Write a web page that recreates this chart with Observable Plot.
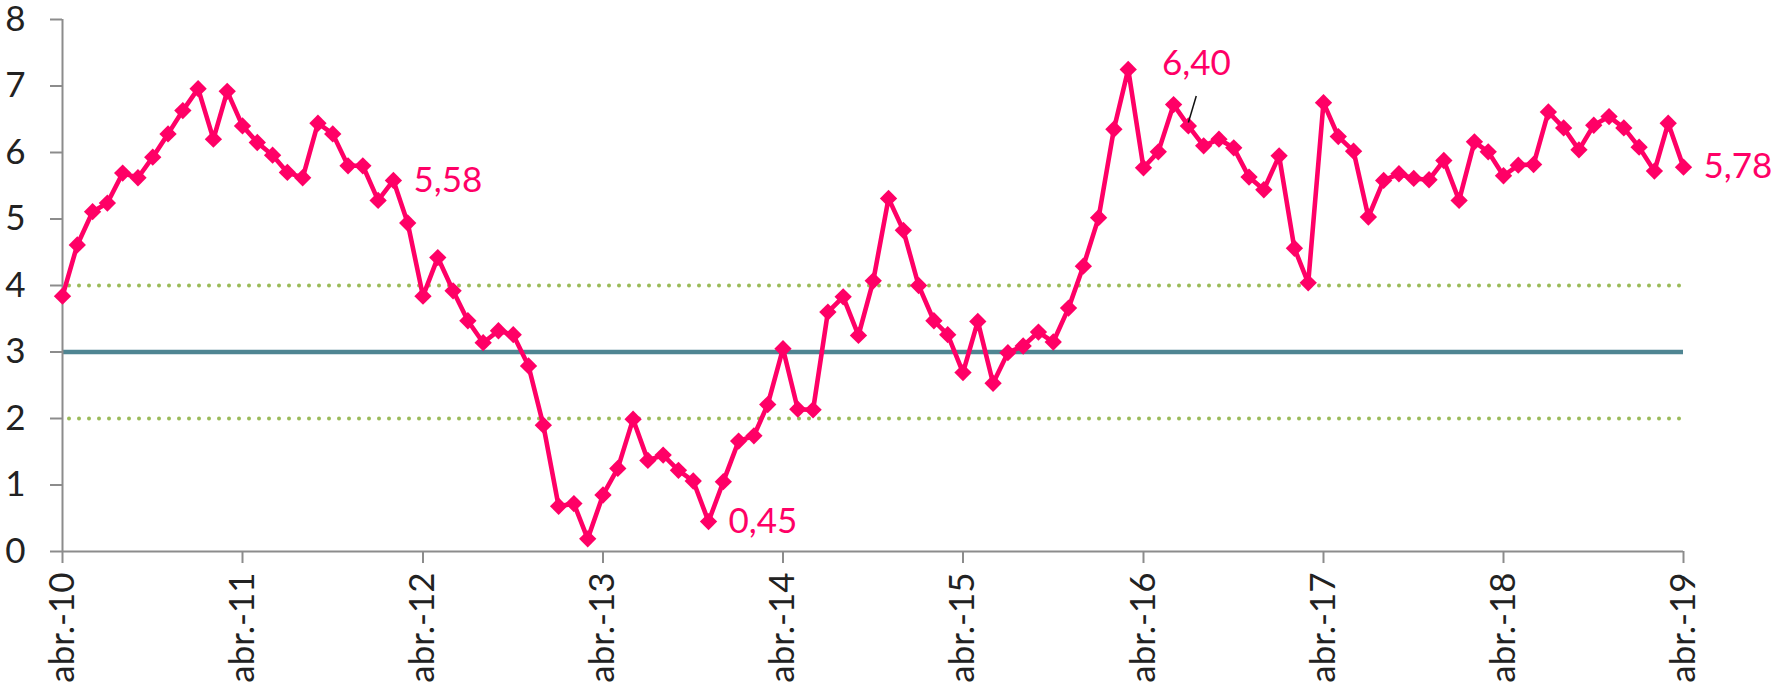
<!DOCTYPE html>
<html>
<head>
<meta charset="utf-8">
<script src="https://cdn.jsdelivr.net/npm/d3@7"></script>
<script src="https://cdn.jsdelivr.net/npm/@observablehq/plot@0.6"></script>
<style>
  html, body { margin: 0; padding: 0; background: #fff; }
  svg { display: block; }
</style>
</head>
<body>
<div id="chart"></div>
<script>
// Serie mensual, desde abril de 2010 hasta abril de 2019
const startYear = 2010;
const startMonth = 3; // abril (0 = enero)
const values = [
  // 2010 (abr-dic)
  3.84, 4.61, 5.11, 5.24, 5.69, 5.62, 5.93, 6.28, 6.63,
  // 2011
  6.96, 6.20, 6.92, 6.40, 6.15, 5.96, 5.70, 5.62, 6.44, 6.28, 5.80, 5.80,
  // 2012
  5.28, 5.58, 4.94, 3.84, 4.42, 3.92, 3.47, 3.14, 3.32, 3.26, 2.79, 1.90,
  // 2013
  0.68, 0.72, 0.19, 0.85, 1.25, 1.99, 1.37, 1.45, 1.22, 1.06, 0.45, 1.05,
  // 2014
  1.66, 1.74, 2.21, 3.05, 2.14, 2.13, 3.60, 3.83, 3.25, 4.07, 5.31, 4.83,
  // 2015
  4.00, 3.47, 3.26, 2.69, 3.46, 2.53, 2.99, 3.09, 3.30, 3.15, 3.66, 4.29,
  // 2016
  5.02, 6.35, 7.25, 5.77, 6.01, 6.72, 6.40, 6.10, 6.20, 6.07, 5.63, 5.44,
  // 2017
  5.95, 4.56, 4.04, 6.75, 6.24, 6.02, 5.03, 5.58, 5.68, 5.61, 5.59, 5.88,
  // 2018
  5.28, 6.16, 6.01, 5.65, 5.81, 5.82, 6.61, 6.37, 6.04, 6.41, 6.54, 6.37,
  // 2019 (ene-abr)
  6.08, 5.72, 6.44, 5.78
];
const tickYears = [2010, 2011, 2012, 2013, 2014, 2015, 2016, 2017, 2018, 2019];
const tickPrefix = "abr.-";
const yTicks = [0, 1, 2, 3, 4, 5, 6, 7, 8];
const targetValue = 3;
const bandValues = [2, 4];
// etiquetas de datos
const sideLabelIndex = [22, 43, 108];
const sideLabelText = ["5,58", "0,45", "5,78"];
const topLabelIndex = [75];
const topLabelText = ["6,40"];

const start = new Date(Date.UTC(startYear, startMonth, 1));
const data = values.map((v, i) => ({ date: d3.utcMonth.offset(start, i), value: v }));
const end = data[data.length - 1].date;
const tickDates = tickYears.map(y => new Date(Date.UTC(y, startMonth, 1)));
const sideLabels = sideLabelIndex.map((idx, k) => ({ ...data[idx], text: sideLabelText[k] }));
const topLabels = topLabelIndex.map((idx, k) => ({ ...data[idx], text: topLabelText[k] }));

const pink = "#ff0066";
const axisGray = "#8c8c8c";
const font = "Lato, 'Open Sans', sans-serif";

const chart = Plot.plot({
  width: 1776,
  height: 695,
  marginLeft: 62,
  marginRight: 93,
  marginTop: 19,
  marginBottom: 144,
  style: { fontFamily: font, fontSize: "35px", color: "#222", background: "#fff" },
  x: { type: "utc", domain: [start, end] },
  y: { domain: [0, 8] },
  marks: [
    // líneas de referencia
    Plot.ruleY(bandValues, {
      x1: start, x2: end,
      stroke: "#9bbb59", strokeWidth: 4,
      strokeDasharray: "0 10", strokeLinecap: "round", strokeDashoffset: 3
    }),
    Plot.ruleY([targetValue], { x1: start, x2: end, stroke: "#4f8592", strokeWidth: 4.5 }),
    // ejes
    Plot.ruleX([start], { stroke: axisGray, strokeWidth: 2 }),
    Plot.ruleY([0], { stroke: axisGray, strokeWidth: 2 }),
    Plot.axisY({
      ticks: yTicks, tickSize: 12, tickPadding: 25,
      stroke: axisGray, strokeWidth: 2, fill: "#222", fontSize: 35, label: null
    }),
    Plot.axisX({
      ticks: tickDates, tickFormat: d => tickPrefix + String(d.getUTCFullYear()).slice(2),
      tickRotate: -90, tickSize: 12, tickPadding: 9,
      stroke: axisGray, strokeWidth: 2, fill: "#222", fontSize: 35, label: null
    }),
    // serie
    Plot.line(data, { x: "date", y: "value", stroke: pink, strokeWidth: 4.6, strokeLinejoin: "miter" }),
    Plot.dot(data, { x: "date", y: "value", symbol: "diamond2", r: 7.8, fill: pink, stroke: "none" }),
    // línea guía de la etiqueta superior
    Plot.link(topLabels, {
      x1: "date", y1: d => d.value + 0.05,
      x2: d => d3.utcDay.offset(d.date, 16), y2: d => d.value + 0.45,
      stroke: "#111", strokeWidth: 1.5
    }),
    // etiquetas
    Plot.text(sideLabels, {
      x: "date", y: "value", text: "text", dx: 20, textAnchor: "start",
      fill: pink, fontSize: 35, fontFamily: font
    }),
    Plot.text(topLabels, {
      x: "date", y: "value", text: "text", dx: 8, dy: -62, textAnchor: "middle",
      fill: pink, fontSize: 35, fontFamily: font
    })
  ]
});
document.getElementById("chart").appendChild(chart);
</script>
</body>
</html>
